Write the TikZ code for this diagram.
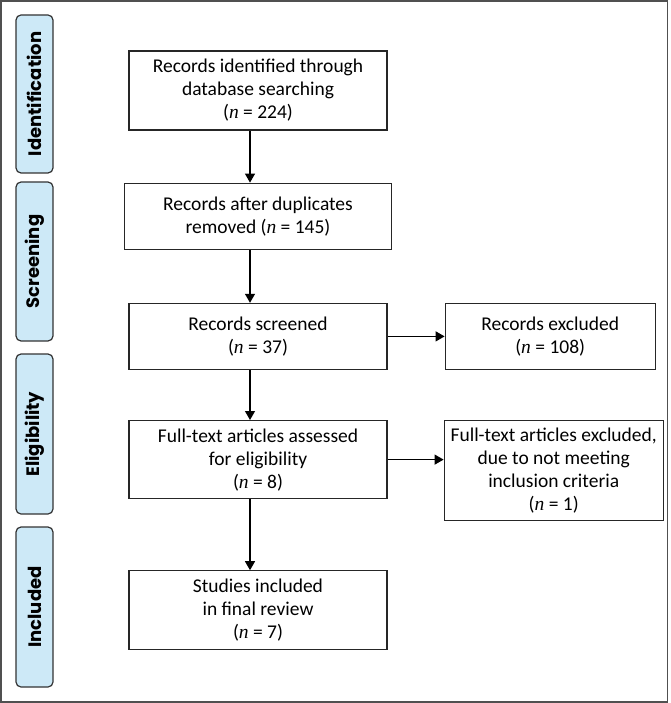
\documentclass[tikz,border=0pt]{standalone}
\usepackage{fontspec}
\setmainfont{Carlito}
\newfontfamily\stagefont{Poppins}
\newfontfamily\nfont{Liberation Serif}
\usepackage{tikz}
\usetikzlibrary{arrows.meta, positioning}
\definecolor{stageblue}{RGB}{205,233,247}
\definecolor{framegray}{RGB}{80,80,80}
\newcommand{\nn}{{\nfont\itshape n}}

\begin{document}
\begin{tikzpicture}[
        x=1pt, y=1pt,
        node distance=51pt and 57pt,
        box/.style={rectangle, draw=black!85, line width=1.2pt, minimum width=258pt, align=center, inner sep=1pt, font=\fontsize{19.5}{23}\selectfont},
        stage/.style={rectangle, rounded corners=5pt, draw=black!80, line width=1.2pt, fill=stageblue, rotate=90, minimum height=37pt, inner sep=0pt, font=\stagefont\bfseries\fontsize{18}{20}\selectfont},
        arr/.style={-{Triangle[length=9pt, width=10pt]}, line width=1.2pt},
    ]
    \useasboundingbox (0,0) rectangle (670,-703);
    % Rahmen
    \draw[framegray, line width=1.5pt] (1,-1) rectangle (667.5,-702);

    % Phasen (links)
    \node[stage, minimum width=158pt] (sIdent) at (34.5,-94) {Identification};
    \node[stage, minimum width=159pt] (sScreen) at (34.5,-261.5) {Screening};
    \node[stage, minimum width=160pt] (sElig) at (34.5,-434) {Eligibility};
    \node[stage, minimum width=160pt] (sIncl) at (34.5,-607) {Included};

    % Hauptspalte
    \node[box, minimum height=79pt] (ident) at (258,-90.5) {Records identified through\\ database searching\\ (\nn{} = 224)};
    \node[box, below=52pt of ident, minimum width=267pt, minimum height=66pt] (dedup) {Records after duplicates\\ removed (\nn{} = 145)};
    \node[box, below=53pt of dedup, minimum height=66pt] (screen) {Records screened\\ (\nn{} = 37)};
    \node[box, below=50pt of screen, minimum height=78pt] (assess) {Full-text articles assessed\\ for eligibility\\ (\nn{} = 8)};
    \node[box, below=71pt of assess, minimum height=79pt] (incl) {Studies included\\ in final review\\ (\nn{} = 7)};

    % Ausgeschlossen (rechts)
    \node[box, right=of screen, minimum width=210pt, minimum height=66pt] (excl) {Records excluded\\ (\nn{} = 108)};
    \node[box, right=56pt of assess, yshift=-11pt, minimum width=219pt, minimum height=100pt] (exclFT) {Full-text articles excluded,\\ due to not meeting\\ inclusion criteria\\ (\nn{} = 1)};

    % Pfeile
    \draw[arr] ([xshift=-8pt]ident.south) -- ([xshift=-8pt]ident.south |- dedup.north);
    \draw[arr] ([xshift=-8pt]dedup.south) -- ([xshift=-8pt]dedup.south |- screen.north);
    \draw[arr] ([xshift=-8pt]screen.south) -- ([xshift=-8pt]screen.south |- assess.north);
    \draw[arr] ([xshift=-8pt]assess.south) -- ([xshift=-8pt]assess.south |- incl.north);
    \draw[arr] (screen.east) -- (screen.east -| excl.west);
    \draw[arr] (assess.east) -- (assess.east -| exclFT.west);
\end{tikzpicture}
\end{document}
